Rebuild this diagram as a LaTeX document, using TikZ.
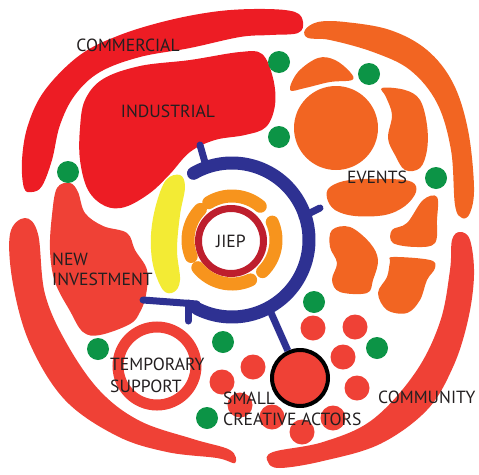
\documentclass[tikz,border=0pt]{standalone}
\usepackage{fontspec}
\setmainfont{PT Sans}
\definecolor{redA}{RGB}{237,28,36}
\definecolor{redB}{RGB}{239,65,54}
\definecolor{orgE}{RGB}{242,101,34}
\definecolor{grn}{RGB}{12,148,70}
\definecolor{ylw}{RGB}{243,235,52}
\definecolor{orgD}{RGB}{247,148,29}
\definecolor{dred}{RGB}{190,30,45}
\definecolor{navy}{RGB}{46,49,146}
\definecolor{txt}{RGB}{35,31,32}
\begin{document}
\begin{tikzpicture}[x=1pt,y=-1pt,
  lbl/.style={text=txt,font=\fontsize{17.6}{20}\selectfont,inner sep=0pt},
  gdot/.style={fill=grn},
  sdot/.style={fill=redB},
  blob/.style={smooth cycle,tension=0.6},
  bline/.style={draw=navy,line width=7pt,line cap=round}]
\useasboundingbox (0,0) rectangle (479,474);
% commercial band
\fill[redA] plot[blob] coordinates {(24,188) (22,160) (28,125) (45,90) (80,55) (120,35) (170,20) (220,11) (265,9) (295,12) (303,22) (298,33) (270,35) (240,37) (190,48) (140,57) (100,72) (75,95) (60,125) (52,160) (42,186) (32,192)};
% industrial
\fill[redA] plot[blob] coordinates {(85,100) (103,79) (140,66) (190,60) (240,52) (262,54) (273,78) (275,105) (266,127) (245,135) (215,140) (190,152) (170,174) (150,193) (125,207) (105,206) (88,190) (80,160) (80,128)};
% events outer arc
\fill[orgE] plot[blob] coordinates {(305,30) (318,22) (345,22) (390,30) (427,50) (453,83) (468,130) (474,187) (470,213) (462,218) (455,205) (451,150) (437,103) (410,70) (373,52) (330,40) (308,38)};
% events pieces
\fill[orgE] plot[blob] coordinates {(290,90) (298,72) (318,58) (335,60) (350,72) (352,80) (330,82) (305,88)};
\fill[orgE] (336,128) circle[radius=42pt];
\fill[orgE] plot[blob] coordinates {(382,88) (405,90) (420,100) (427,125) (427,150) (420,168) (405,170) (395,155) (388,138) (392,115) (386,97)};
\fill[orgE] plot[blob] coordinates {(330,187) (350,180) (390,179) (412,182) (416,192) (405,206) (385,215) (355,216) (335,210) (327,198)};
\fill[orgE] plot[blob] coordinates {(437,197) (437,220) (435,243) (417,247) (393,243) (392,230) (407,223) (423,200)};
\fill[orgE] plot[blob] coordinates {(332,230) (350,227) (370,243) (378,260) (373,280) (367,293) (340,292) (332,280) (337,263) (330,247)};
\fill[orgE] plot[blob] coordinates {(393,257) (430,260) (435,268) (427,280) (420,300) (407,313) (387,310) (378,293) (387,277) (390,262)};
% community arc
\fill[redB] plot[blob] coordinates {(460,232) (470,240) (474,275) (468,320) (453,367) (427,410) (380,444) (323,461) (280,468) (268,462) (273,452) (323,442) (372,420) (415,373) (440,322) (450,270) (452,240)};
% left arc
\fill[redB] plot[blob] coordinates {(10,234) (13,284) (30,344) (65,400) (117,436) (167,452) (217,458) (235,463) (230,450) (193,439) (140,421) (100,391) (67,344) (45,294) (38,234) (25,218)};
% new investment blob
\fill[redB] plot[blob] coordinates {(57,188) (70,183) (78,192) (85,213) (103,226) (127,233) (135,250) (147,270) (146,295) (140,312) (130,324) (100,335) (83,332) (70,311) (55,282) (50,250) (52,215)};
% temporary support ring
\draw[redB,line width=11pt] (157,366) circle[radius=39pt];
% yellow crescent
\fill[ylw] plot[blob] coordinates {(180,175) (185,187) (180,215) (177,250) (180,280) (174,292) (163,290) (153,265) (151,235) (156,205) (166,180)};
% JIEP ring and dashes
\coordinate (c) at (232,240);
\draw[dred,line width=7pt] (231,241) circle[radius=32.5pt];
\foreach \a/\b in {50/122, -46/24, 219/295, 136/202}
  \draw[orgD,line width=13pt,line cap=round] (c) ++(\a:44pt) arc[start angle=\a,end angle=\b,radius=44pt];
% blue arc
\draw[navy,line width=13pt,line cap=round] (c) ++(120:77pt) coordinate (b0) arc[start angle=120,end angle=-117,radius=77pt] coordinate (b1);
\coordinate (tA) at (200,145);
\coordinate (tB) at (206,166);
\coordinate (rA) at (302,217);
\coordinate (rB) at (320,208);
\coordinate (hL) at (143,300);
\coordinate (hR) at (197,304);
\coordinate (dA) at (188,303);
\coordinate (dB) at (188,321);
\coordinate (sA) at (268,306);
\draw[bline] (tA) -- (tB);
\draw[bline] (rA) -- (rB);
\draw[bline] (hL) -- (hR);
\draw[bline] (dA) -- (dB);
% small creative actors
\node[circle,fill=redB,draw=black,line width=4pt,minimum size=56pt,inner sep=0pt] (sca) at (300,378) {};
\draw[bline,line cap=butt] (sA) -- (sca);
\foreach \p in {(313,328),(355,327),(343,357),(357,388),(253,367),(222,382),(240,405),(272,417),(302,432),(333,418)}
  \fill[sdot] \p circle[radius=12.5pt];
% green dots
\foreach \p in {(68,172),(279,62),(369,74),(279,137),(436,178),(98,349),(223,342),(207,418),(314,302),(377,348)}
  \fill[gdot] \p circle[radius=11pt];
% labels
\node[lbl] (com) at (128,45.5) {COMMERCIAL};
\node[lbl] (ind) at (168,111.5) {INDUSTRIAL};
\node[lbl] (evt) at (377,177.5) {EVENTS};
\node[lbl] (jiep) at (231,241) {JIEP};
\node[lbl,anchor=west] (nw1) at (52,259) {NEW};
\node[lbl,anchor=west] (nw2) at (52,279.5) {INVESTMENT};
\node[lbl,anchor=west] (tp1) at (110,364.5) {TEMPORARY};
\node[lbl,anchor=west] (tp2) at (110,386.5) {SUPPORT};
\node[lbl,anchor=west] (sm1) at (223,398.5) {SMALL};
\node[lbl,anchor=west] (sm2) at (223,419.5) {CREATIVE ACTORS};
\node[lbl,anchor=west] (cmy) at (378,397.5) {COMMUNITY};
\end{tikzpicture}
\end{document}
